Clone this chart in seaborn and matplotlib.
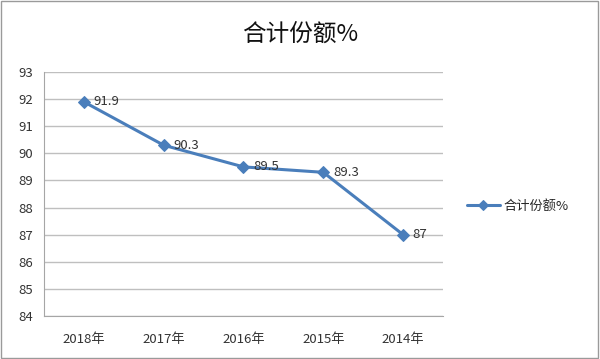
import numpy as np
import pandas as pd
import matplotlib.pyplot as plt
import seaborn as sns
from matplotlib.ticker import FixedLocator

years = ['2018年', '2017年', '2016年', '2015年', '2014年']
share = [91.9, 90.3, 89.5, 89.3, 87.0]
share_labels = ['91.9', '90.3', '89.5', '89.3', '87']
series_name = '合计份额%'

sns.set_style('white')
plt.rcParams['font.family'] = ['Noto Sans CJK SC', 'DejaVu Sans']
plt.rcParams['axes.unicode_minus'] = False

df = pd.DataFrame({'year': years, 'value': share})

fig = plt.figure(figsize=(6.0, 3.59), dpi=100)
ax = fig.add_axes([0.0733, 0.1198, 0.665, 0.6796])

line_color = '#4A7EBB'
sns.lineplot(data=df, x='year', y='value', sort=False, color=line_color,
             marker='D', markersize=6, markeredgecolor=line_color,
             linewidth=2.2, label=series_name, ax=ax)

for i, (v, t) in enumerate(zip(share, share_labels)):
    ax.annotate(t, (i, v), xytext=(7, 0), textcoords='offset points',
                va='center', ha='left', fontsize=9.5, color='#333333')

ax.set_xlim(-0.5, len(years) - 0.5)
ax.set_ylim(84, 93)
ax.set_yticks(np.arange(84, 94, 1))
ax.yaxis.grid(True, color='#BFBFBF', linewidth=1)
ax.set_axisbelow(True)

ax.set_xticks(range(len(years)))
ax.set_xticklabels(years)
ax.xaxis.set_minor_locator(FixedLocator(np.arange(-0.5, len(years), 1)))
ax.tick_params(axis='x', which='major', length=0, pad=12, labelsize=9.5, colors='#333333')
ax.tick_params(axis='x', which='minor', length=4, color='#A6A6A6', direction='out')
ax.tick_params(axis='y', length=4, color='#A6A6A6', labelsize=9.5, colors='#333333', pad=4)

for side in ['top', 'right']:
    ax.spines[side].set_visible(False)
for side in ['left', 'bottom']:
    ax.spines[side].set_color('#A6A6A6')
ax.set_xlabel('')
ax.set_ylabel('')

leg = ax.legend(loc='center left', bbox_to_anchor=(1.03, 0.45), frameon=False,
                fontsize=9.5, handlelength=2.5, handletextpad=0.3, markerscale=0.8)

fig.text(0.5, 0.905, '合计份额%', ha='center', va='center', fontsize=17, color='#111111')

fig.patches.append(plt.Rectangle((0.002, 0.003), 0.995, 0.993, transform=fig.transFigure,
                                 fill=False, edgecolor='#9A9A9A', linewidth=1))

fig.savefig('out.png', dpi=100)
